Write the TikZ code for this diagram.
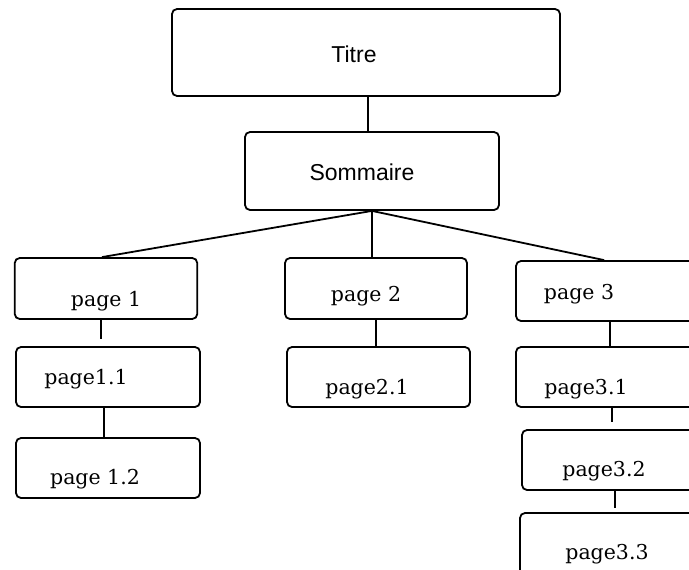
\documentclass[tikz,border=0pt]{standalone}
\usepackage{fontspec}
\newfontfamily\boitesans{Liberation Sans}
\newfontfamily\boiteserif{DejaVu Serif}

\begin{document}
\begin{tikzpicture}[x=1pt, y=-1pt, line width=1.8pt,
    boite/.style={draw, rectangle, rounded corners=5pt, inner sep=0pt},
    titrelabel/.style={font=\boitesans\fontsize{23}{26}\selectfont},
    pagelabel/.style={font=\boiteserif\fontsize{20.5}{24}\selectfont}]
  \clip (0,0) rectangle (689,570);
  % niveau 0 et 1
  \node[boite, minimum width=388pt, minimum height=87pt,
    label={[titrelabel, xshift=-12pt, yshift=-1.5pt]center:Titre}] (titre) at (366,52.5) {};
  \node[boite, minimum width=254pt, minimum height=78pt,
    label={[titrelabel, xshift=-10pt, yshift=-1pt]center:Sommaire}] (sommaire) at (372,171) {};
  % pages
  \node[boite, minimum width=182.5pt, minimum height=61pt,
    label={[pagelabel, yshift=-12.5pt]center:page 1}] (page1) at (106,288.5) {};
  \node[boite, minimum width=182pt, minimum height=61pt,
    label={[pagelabel, xshift=-10pt, yshift=-7.5pt]center:page 2}] (page2) at (376,288.5) {};
  \node[boite, minimum width=204pt, minimum height=60pt,
    label={[pagelabel, xshift=-39pt, yshift=-3pt]center:page 3}] (page3) at (618,291) {};
  % sous-pages
  \node[boite, minimum width=184pt, minimum height=60pt,
    label={[pagelabel, xshift=-22pt, yshift=-2pt]center:page1.1}] (page11) at (108,377) {};
  \node[boite, minimum width=184pt, minimum height=60pt,
    label={[pagelabel, xshift=-13pt, yshift=-11pt]center:page 1.2}] (page12) at (108,468) {};
  \node[boite, minimum width=183pt, minimum height=60pt,
    label={[pagelabel, xshift=-11.5pt, yshift=-12pt]center:page2.1}] (page21) at (378.5,377) {};
  \node[boite, minimum width=204pt, minimum height=60pt,
    label={[pagelabel, xshift=-32pt, yshift=-12pt]center:page3.1}] (page31) at (618,377) {};
  \node[boite, minimum width=198pt, minimum height=60pt,
    label={[pagelabel, xshift=-17pt, yshift=-11pt]center:page3.2}] (page32) at (621,460) {};
  \node[boite, minimum width=200pt, minimum height=62pt,
    label={[pagelabel, xshift=-13pt, yshift=-10pt]center:page3.3}] (page33) at (620,544) {};
  % liens
  \draw ([xshift=-4pt]sommaire.north) -- ([xshift=-4pt]sommaire.north |- titre.south);
  \draw (sommaire.south) -- ([xshift=-4pt]page1.north);
  \draw (sommaire.south) -- (sommaire.south |- page2.north);
  \draw (sommaire.south) -- ([xshift=89pt]page3.north west);
  \draw[shorten >=7pt] ([xshift=-5pt]page1.south) -- ([xshift=-5pt]page1.south |- page11.north);
  \draw ([xshift=-4pt]page11.south) -- ([xshift=-4pt]page12.north);
  \draw (page2.south) -- (page2.south |- page21.north);
  \draw ([xshift=95pt]page3.south west) -- ([xshift=95pt]page31.north west);
  \draw[shorten >=7pt] ([xshift=97pt]page31.south west) -- ([xshift=97pt]page31.south west |- page32.north);
  \draw[shorten >=4pt] ([xshift=93.5pt]page32.south west) -- ([xshift=93.5pt]page32.south west |- page33.north);
\end{tikzpicture}
\end{document}
